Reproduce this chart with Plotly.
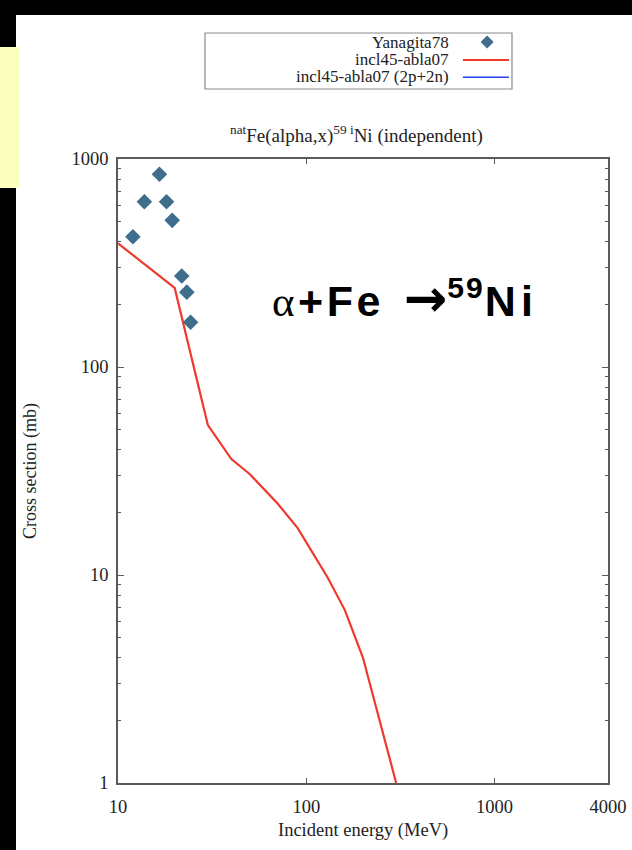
import plotly.graph_objects as go

# Measured cross sections (Yanagita 1978)
exp_energy = [12.0, 13.8, 16.6, 18.1, 19.4, 21.8, 23.2, 24.3]
exp_xs = [423, 623, 844, 623, 507, 274, 229, 164]

# INCL4.5 + ABLA07 calculation
calc_energy = [10, 20, 30, 40, 50, 70, 90, 130, 160, 200, 300]
calc_xs = [393, 240, 52.6, 36.1, 30.6, 22.2, 16.8, 9.7, 6.8, 4.0, 1.0]

x_ticks = [10, 100, 1000, 4000]
x_tick_text = ["10", "100", "1000", "4000"]
y_ticks = [1, 10, 100, 1000]
y_tick_text = ["1", "10", "100", "1000"]

legend_labels = ["Yanagita78", "incl45-abla07", "incl45-abla07 (2p+2n)"]

W, H = 632, 850
SERIF = "Liberation Serif, Times New Roman, serif"
SANS = "Liberation Sans, Arial, sans-serif"
FRAME = "#5a5a5a"
MARK = "#3f6d8c"
RED = "#f0392e"
BLUE = "#2040f0"


def px(x):
    return x / W


def py(y):
    return 1 - y / H


fig = go.Figure()

fig.add_trace(go.Scatter(
    x=calc_energy, y=calc_xs, mode="lines",
    line=dict(color=RED, width=2.2), showlegend=False,
))
fig.add_trace(go.Scatter(
    x=exp_energy, y=exp_xs, mode="markers",
    marker=dict(symbol="diamond", size=12, color=MARK), showlegend=False,
))

# Key samples drawn on a small auxiliary axis pair
fig.add_trace(go.Scatter(
    x=[0.919], y=[0.84], mode="markers", xaxis="x2", yaxis="y2",
    marker=dict(symbol="diamond", size=10, color=MARK), showlegend=False,
))
fig.add_trace(go.Scatter(
    x=[0.84, 0.99], y=[0.52, 0.52], mode="lines", xaxis="x2", yaxis="y2",
    line=dict(color=RED, width=2), showlegend=False,
))
fig.add_trace(go.Scatter(
    x=[0.84, 0.99], y=[0.21, 0.21], mode="lines", xaxis="x2", yaxis="y2",
    line=dict(color=BLUE, width=1.5), showlegend=False,
))

shapes = [
    # dark slide border
    dict(type="rect", xref="paper", yref="paper", x0=0, x1=px(16), y0=0, y1=1,
         fillcolor="black", line=dict(width=0), layer="below"),
    dict(type="rect", xref="paper", yref="paper", x0=0, x1=1, y0=py(15), y1=1,
         fillcolor="black", line=dict(width=0), layer="below"),
    dict(type="rect", xref="paper", yref="paper", x0=0, x1=px(19), y0=py(188), y1=py(47),
         fillcolor="#fbffc0", line=dict(width=0), layer="below"),
    # key frame
    dict(type="rect", xref="paper", yref="paper", x0=px(205), x1=px(512), y0=py(89), y1=py(33),
         fillcolor="rgba(0,0,0,0)", line=dict(color="#8a8a8a", width=1.2)),
]

TXT = "#222"

reaction_text = (
    '<b><span style="letter-spacing:3.5px">'
    '<span style="font-family:Liberation Serif;font-weight:normal">α</span>+Fe</span>'
    '<span style="letter-spacing:8px"> </span>'
    '<span style="font-family:DejaVu Sans;font-size:52px">→</span>'
    '<sup><span style="letter-spacing:2px">59</span></sup>'
    '<span style="letter-spacing:5px">N</span>i</b>'
)

annotations = [
    dict(text="<sup>nat</sup>Fe(alpha,x)<sup>59 i</sup>Ni (independent)",
         x=px(356), y=py(134), xref="paper", yref="paper", showarrow=False,
         xanchor="center", yanchor="middle", font=dict(family=SERIF, size=19, color=TXT)),
    dict(text="Cross section (mb)", textangle=-90,
         x=px(31), y=py(471), xref="paper", yref="paper", showarrow=False,
         xanchor="center", yanchor="middle", font=dict(family=SERIF, size=18, color=TXT)),
    dict(text="Incident energy (MeV)",
         x=px(363), y=py(830), xref="paper", yref="paper", showarrow=False,
         xanchor="center", yanchor="middle", font=dict(family=SERIF, size=18.5, color=TXT)),
    dict(text=reaction_text,
         x=px(270), y=py(298), xref="paper", yref="paper", showarrow=False,
         xanchor="left", yanchor="middle", font=dict(family=SANS, size=43, color="black")),
]

for label, row_y in zip(legend_labels, [42, 60, 77]):
    annotations.append(dict(
        text=label, x=px(451), y=py(row_y), xref="paper", yref="paper", showarrow=False,
        xanchor="right", yanchor="middle", font=dict(family=SERIF, size=17, color=TXT),
    ))

axis_font = dict(family=SERIF, size=18.5, color=TXT)

fig.update_layout(
    width=W, height=H,
    margin=dict(l=0, r=0, t=0, b=0),
    paper_bgcolor="white", plot_bgcolor="white",
    shapes=shapes, annotations=annotations,
    xaxis=dict(
        type="log", domain=[px(118), px(608)],
        range=[1, 3.60206], tickvals=x_ticks, ticktext=x_tick_text,
        ticks="inside", ticklen=5, tickcolor=FRAME, tickwidth=1,
        showline=True, linecolor=FRAME, linewidth=1.5, mirror="ticks",
        showgrid=False, zeroline=False, tickfont=axis_font, automargin=False,
        ticklabelstandoff=6,
    ),
    yaxis=dict(
        type="log", domain=[py(783), py(159)],
        range=[0, 3], tickvals=y_ticks, ticktext=y_tick_text,
        ticks="inside", ticklen=6, tickcolor=FRAME, tickwidth=1,
        minor=dict(ticks="inside", ticklen=3, tickcolor=FRAME,
                   tickvals=[m * d for d in (1, 10, 100) for m in range(2, 10)]),
        showline=True, linecolor=FRAME, linewidth=1.5, mirror="ticks",
        showgrid=False, zeroline=False, tickfont=axis_font, automargin=False,
        ticklabelstandoff=4,
    ),
    xaxis2=dict(domain=[px(205), px(512)], range=[0, 1], visible=False, fixedrange=True,
                anchor="y2"),
    yaxis2=dict(domain=[py(89), py(33)], range=[0, 1], visible=False, fixedrange=True,
                anchor="x2"),
)

fig.write_html("out.html")
